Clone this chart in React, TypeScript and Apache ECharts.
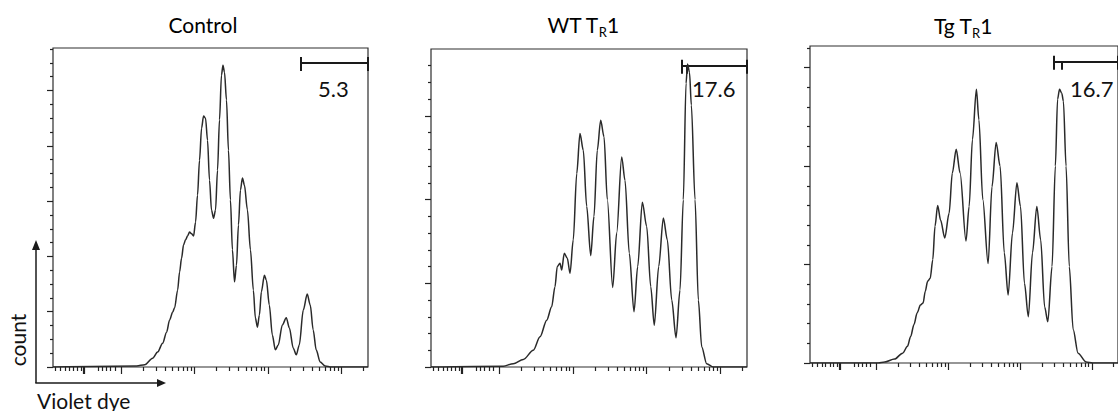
import React, { useEffect, useRef } from 'react';
import * as echarts from 'echarts';

// ---------- data ----------
// x: display position in decades (log10 of violet-dye fluorescence in the log region)
// y: cell count, in units of one major count tick of each panel
const X_MIN = 1.075;
const X_MAX = 5.362;

const controlX = [1.075, 2.215, 2.323, 2.431, 2.499, 2.567, 2.621, 2.662, 2.703, 2.730, 2.771, 2.798, 2.825, 2.852, 2.879, 2.906, 2.934, 2.961, 2.988, 3.015, 3.042, 3.069, 3.097, 3.124, 3.151, 3.178, 3.205, 3.232, 3.260, 3.287, 3.314, 3.341, 3.368, 3.388, 3.409, 3.436, 3.463, 3.490, 3.517, 3.545, 3.572, 3.599, 3.626, 3.653, 3.680, 3.721, 3.762, 3.802, 3.829, 3.857, 3.884, 3.911, 3.952, 3.979, 4.019, 4.060, 4.101, 4.141, 4.196, 4.250, 4.291, 4.345, 4.386, 4.427, 4.481, 4.535, 4.576, 4.616, 4.657, 4.711, 4.779, 4.861, 5.362];
const controlCount = [0, 0.02, 0.04, 0.16, 0.27, 0.43, 0.63, 0.85, 0.99, 1.07, 1.39, 1.72, 1.97, 2.21, 2.30, 2.37, 2.44, 2.41, 2.37, 2.62, 3.11, 3.74, 4.32, 4.54, 4.50, 4.10, 3.38, 2.84, 2.69, 2.84, 3.56, 4.47, 5.28, 5.46, 5.33, 4.83, 3.92, 3.02, 2.12, 1.54, 1.84, 2.57, 3.20, 3.42, 3.29, 2.84, 2.12, 1.39, 0.89, 0.72, 0.94, 1.36, 1.66, 1.57, 1.12, 0.58, 0.31, 0.40, 0.76, 0.89, 0.71, 0.34, 0.22, 0.40, 1.03, 1.32, 1.12, 0.67, 0.31, 0.09, 0.02, 0, 0];

const wtX = [1.075, 2.056, 2.191, 2.327, 2.463, 2.554, 2.645, 2.712, 2.757, 2.788, 2.825, 2.848, 2.883, 2.924, 2.961, 3.005, 3.052, 3.096, 3.141, 3.187, 3.242, 3.286, 3.331, 3.377, 3.422, 3.467, 3.540, 3.594, 3.662, 3.707, 3.765, 3.829, 3.879, 3.942, 4.001, 4.056, 4.104, 4.164, 4.227, 4.281, 4.341, 4.399, 4.453, 4.498, 4.535, 4.555, 4.582, 4.607, 4.657, 4.702, 4.748, 4.815, 4.905, 5.362];
const wtCount = [0, 0.01, 0.04, 0.09, 0.20, 0.36, 0.56, 0.72, 0.96, 1.20, 1.24, 1.16, 1.36, 1.30, 1.12, 1.52, 2.31, 2.79, 2.59, 1.92, 1.33, 1.80, 2.59, 2.95, 2.75, 2.00, 0.95, 1.60, 2.51, 2.23, 1.36, 0.66, 1.20, 1.97, 1.68, 0.96, 0.50, 1.20, 1.78, 1.52, 0.80, 0.35, 0.92, 2.00, 3.39, 3.62, 3.52, 3.13, 2.00, 0.80, 0.24, 0.04, 0, 0];

const tgX = [1.075, 2.024, 2.115, 2.251, 2.364, 2.432, 2.476, 2.522, 2.567, 2.612, 2.649, 2.680, 2.712, 2.748, 2.784, 2.815, 2.852, 2.893, 2.951, 3.011, 3.056, 3.110, 3.164, 3.246, 3.290, 3.336, 3.391, 3.426, 3.480, 3.554, 3.608, 3.666, 3.721, 3.779, 3.833, 3.893, 3.955, 4.005, 4.060, 4.114, 4.172, 4.232, 4.286, 4.341, 4.385, 4.444, 4.490, 4.521, 4.548, 4.579, 4.602, 4.639, 4.684, 4.738, 4.806, 4.919, 5.009, 5.362];
const tgCount = [0, 0, 0.01, 0.04, 0.10, 0.17, 0.27, 0.39, 0.51, 0.59, 0.61, 0.73, 0.83, 0.86, 1.05, 1.39, 1.60, 1.45, 1.27, 1.52, 1.93, 2.17, 1.93, 1.24, 1.59, 2.27, 2.78, 2.47, 1.66, 1.01, 1.79, 2.24, 2.00, 1.12, 0.69, 1.32, 1.83, 1.59, 0.81, 0.47, 1.12, 1.59, 1.25, 0.57, 0.42, 0.98, 2.00, 2.68, 2.78, 2.74, 2.66, 2.00, 0.98, 0.34, 0.10, 0.01, 0, 0];

const panelTitles = ['{a|Control}', '{a|WT T}{b|R}{a|1}', '{a|Tg T}{b|R}{a|1}'];
const panelXs = [controlX, wtX, tgX];
const panelCounts = [controlCount, wtCount, tgCount];
const yMax = [5.77, 3.8, 3.22];
const yMinorSplit = [4, 5, 5];

// gate (divided-cell gate) per panel
const gateStart = [4.453, 4.48, 4.467];
const gateLevel = [5.5, 3.6, 3.06];
const gateMark: (number | null)[] = [null, 4.548, 4.575];
const gateLabels = ['5.3', '17.6', '16.7'];

// x axis ticks (display decades)
const xZeroTick = [1.495];
const xMajorTicks = [2, 3, 4, 5];
const xLowMinorTicks = [1.10, 1.18, 1.24, 1.29, 1.35, 1.40, 1.46, 1.69, 1.74, 1.80, 1.86, 1.92];
const decades = [2, 3, 4, 5];
const decadeSteps = [2, 3, 4, 5, 6, 7, 8, 9];

// ---------- layout ----------
const grids = [
  { left: 53, top: 48, width: 315, height: 319 },
  { left: 431, top: 49, width: 316, height: 318 },
  { left: 810, top: 46, width: 316, height: 317 },
];
const titlePos = [
  [203, 24],
  [583, 24],
  [963, 25],
];
const gateLabelPos = [
  [318, 88],
  [692, 88],
  [1070, 88.5],
];

const FONT = 'Lato, "Open Sans", sans-serif';
const INK = '#222';

function buildOption() {
  const xMinorTicks: number[] = [...xLowMinorTicks];
  decades.forEach((d) => decadeSteps.forEach((k) => {
    const v = d + Math.log10(k);
    if (v < X_MAX) xMinorTicks.push(v);
  }));

  const xAxis: any[] = [];
  const yAxis: any[] = [];
  const series: any[] = [];
  const tickStyle = { color: INK, width: 1.2 };

  grids.forEach((g, i) => {
    const baseX = {
      gridIndex: i, type: 'value', min: X_MIN, max: X_MAX, position: 'bottom',
      axisLine: { show: false, onZero: false }, axisLabel: { show: false }, splitLine: { show: false },
    };
    xAxis.push({ ...baseX, axisTick: { show: true, length: 7, customValues: xMajorTicks, lineStyle: tickStyle } });
    xAxis.push({ ...baseX, axisTick: { show: true, length: 4, customValues: xMinorTicks, lineStyle: tickStyle } });
    xAxis.push({ ...baseX, axisTick: { show: true, length: 7, customValues: xZeroTick, lineStyle: { color: INK, width: 2.2 } } });

    const majors: number[] = [];
    for (let v = 0; v <= yMax[i] + 1e-9; v += 1) majors.push(v);
    const minors: number[] = [];
    const step = 1 / yMinorSplit[i];
    for (let v = step; v < yMax[i]; v += step) {
      if (Math.abs(v - Math.round(v)) > 1e-6) minors.push(+v.toFixed(4));
    }
    const baseY = {
      gridIndex: i, type: 'value', min: 0, max: yMax[i], position: 'left',
      axisLine: { show: false, onZero: false }, axisLabel: { show: false }, splitLine: { show: false },
    };
    yAxis.push({ ...baseY, axisTick: { show: true, length: 6, customValues: majors, lineStyle: tickStyle } });
    yAxis.push({ ...baseY, axisTick: { show: true, length: 3, customValues: minors, lineStyle: tickStyle } });

    const xs = panelXs[i];
    const ys = panelCounts[i];
    const data = xs.map((x, k) => [x, ys[k]]);
    series.push({
      type: 'line', xAxisIndex: 3 * i, yAxisIndex: 2 * i, data,
      showSymbol: false, symbol: 'none', smooth: 0.3, smoothMonotone: 'x',
      lineStyle: { color: '#2a2a2a', width: 1.5 }, silent: true,
    });

    const unit = yMax[i] / g.height; // count units per pixel
    const lvl = gateLevel[i];
    const capUp = 6 * unit;
    const capDown = 8 * unit;
    const gateLines: any[] = [
      { coords: [[gateStart[i], lvl], [X_MAX, lvl]] },
      { coords: [[gateStart[i], lvl + capUp], [gateStart[i], lvl - capDown]] },
      { coords: [[X_MAX, lvl + capUp], [X_MAX, lvl - capDown]] },
    ];
    const m = gateMark[i];
    if (m !== null) gateLines.push({ coords: [[m, lvl], [m, lvl - 8 * unit]] });
    series.push({
      type: 'lines', coordinateSystem: 'cartesian2d', xAxisIndex: 3 * i, yAxisIndex: 2 * i,
      data: gateLines, polyline: false, silent: true,
      lineStyle: { color: '#1a1a1a', width: 2, opacity: 1 },
    });
  });

  const rich = {
    a: { fontSize: 21, fontFamily: FONT, color: '#111', lineHeight: 28, verticalAlign: 'middle' },
    b: { fontSize: 13, fontFamily: FONT, color: '#111', lineHeight: 16, verticalAlign: 'bottom' },
  };

  const graphic: any[] = [];
  panelTitles.forEach((t, i) => {
    graphic.push({
      type: 'text', x: titlePos[i][0], y: titlePos[i][1],
      style: { text: t, rich, align: 'center', verticalAlign: 'middle' },
    });
    graphic.push({
      type: 'text', x: gateLabelPos[i][0], y: gateLabelPos[i][1],
      style: { text: gateLabels[i], fontSize: 22, fontFamily: FONT, fill: '#111', align: 'left', verticalAlign: 'middle' },
    });
  });
  graphic.push({
    type: 'text', x: 17, y: 340, rotation: Math.PI / 2,
    style: { text: 'count', fontSize: 21, fontFamily: FONT, fill: '#111', align: 'center', verticalAlign: 'middle' },
  });
  graphic.push({
    type: 'text', x: 37, y: 400,
    style: { text: 'Violet dye', fontSize: 21, fontFamily: FONT, fill: '#111', align: 'left', verticalAlign: 'middle' },
  });
  // axis arrows
  graphic.push({ type: 'line', shape: { x1: 36, y1: 383, x2: 36, y2: 248 }, style: { stroke: '#1a1a1a', lineWidth: 1.5 } });
  graphic.push({ type: 'polygon', shape: { points: [[32, 250], [40, 250], [36, 240]] }, style: { fill: '#1a1a1a' } });
  graphic.push({ type: 'line', shape: { x1: 35.3, y1: 383, x2: 158, y2: 383 }, style: { stroke: '#1a1a1a', lineWidth: 1.5 } });
  graphic.push({ type: 'polygon', shape: { points: [[157, 379], [157, 387], [166, 383]] }, style: { fill: '#1a1a1a' } });

  return {
    animation: false,
    backgroundColor: '#ffffff',
    grid: grids.map((g) => ({ ...g, show: true, borderColor: '#2e2e2e', borderWidth: 1.2, backgroundColor: 'transparent', containLabel: false })),
    xAxis,
    yAxis,
    series,
    graphic,
  };
}

export default function App() {
  const ref = useRef<HTMLDivElement>(null);
  useEffect(() => {
    if (!ref.current) return;
    const chart = echarts.init(ref.current, null, { renderer: 'svg' });
    chart.setOption(buildOption() as any);
    return () => chart.dispose();
  }, []);
  return (
    <div
      ref={ref}
      style={{ position: 'fixed', left: 0, top: 0, width: 1118, height: 411, background: '#fff' }}
    />
  );
}
